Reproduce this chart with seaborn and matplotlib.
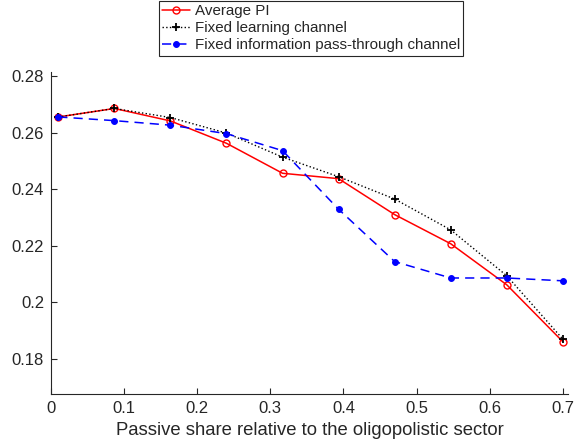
import numpy as np
import pandas as pd
import matplotlib
matplotlib.use("Agg")
import matplotlib.pyplot as plt
import seaborn as sb

# values
passive_share = [0.01, 0.0867, 0.1633, 0.24, 0.3167, 0.3933, 0.47, 0.5467, 0.6233, 0.70]
average_pi = [0.2655, 0.2685, 0.2641, 0.2562, 0.2456, 0.2437, 0.2310, 0.2207, 0.2062, 0.1861]
fixed_learning = [0.2655, 0.2685, 0.2653, 0.2598, 0.2513, 0.2444, 0.2365, 0.2256, 0.2094, 0.1870]
fixed_passthrough = [0.2655, 0.2642, 0.2626, 0.2596, 0.2536, 0.2329, 0.2144, 0.2086, 0.2086, 0.2076]

x_ticks = [0, 0.1, 0.2, 0.3, 0.4, 0.5, 0.6, 0.7]
x_ticklabels = ["0", "0.1", "0.2", "0.3", "0.4", "0.5", "0.6", "0.7"]
y_ticks = [0.18, 0.2, 0.22, 0.24, 0.26, 0.28]
y_ticklabels = ["0.18", "0.2", "0.22", "0.24", "0.26", "0.28"]

sb.set_style("ticks")
plt.rcParams["font.family"] = ["Liberation Sans", "DejaVu Sans"]
plt.rcParams["xtick.direction"] = "in"
plt.rcParams["ytick.direction"] = "in"

fig = plt.figure(figsize=(5.76, 4.48), dpi=100)
ax = fig.add_axes([0.0885, 0.1205, 0.8975, 0.7195])

sb.lineplot(x=passive_share, y=average_pi, ax=ax, color="#ff0000", linestyle="-",
            linewidth=1.1, marker="o", markersize=5, markerfacecolor="none",
            markeredgecolor="#ff0000", markeredgewidth=1.0, label="Average PI")
sb.lineplot(x=passive_share, y=fixed_learning, ax=ax, color="black", linestyle=":",
            linewidth=1.0, marker="+", markersize=6, markeredgewidth=1.3,
            markeredgecolor="black", label="Fixed learning channel")
sb.lineplot(x=passive_share, y=fixed_passthrough, ax=ax, color="#0000ff", linestyle=(0, (6, 4)),
            linewidth=1.1, marker="o", markersize=4.2, markerfacecolor="#0000ff",
            markeredgecolor="#0000ff", label="Fixed information pass-through channel")

ax.set_xlim(0, 0.707)
ax.set_ylim(0.1676, 0.2815)
ax.set_xticks(x_ticks)
ax.set_xticklabels(x_ticklabels)
ax.set_yticks(y_ticks)
ax.set_yticklabels(y_ticklabels)
ax.tick_params(colors="#262626", labelsize=12, length=4, width=0.8, pad=5)
for s in ["top", "right"]:
    ax.spines[s].set_visible(False)
for s in ["left", "bottom"]:
    ax.spines[s].set_color("#262626")
    ax.spines[s].set_linewidth(0.8)

ax.set_xlabel("Passive share relative to the oligopolistic sector", fontsize=13.3, color="#262626", labelpad=4)
ax.set_ylabel("")

leg = ax.legend(loc="upper center", bbox_to_anchor=(0.540, 0.998), bbox_transform=fig.transFigure,
                fontsize=10.9, frameon=True, fancybox=False, framealpha=1, borderpad=0.22,
                labelspacing=0.2, handlelength=1.85, handletextpad=0.28, borderaxespad=0,
                numpoints=1)
leg.get_frame().set_edgecolor("#262626")
leg.get_frame().set_linewidth(0.8)

plt.savefig("out.png", dpi=100)
